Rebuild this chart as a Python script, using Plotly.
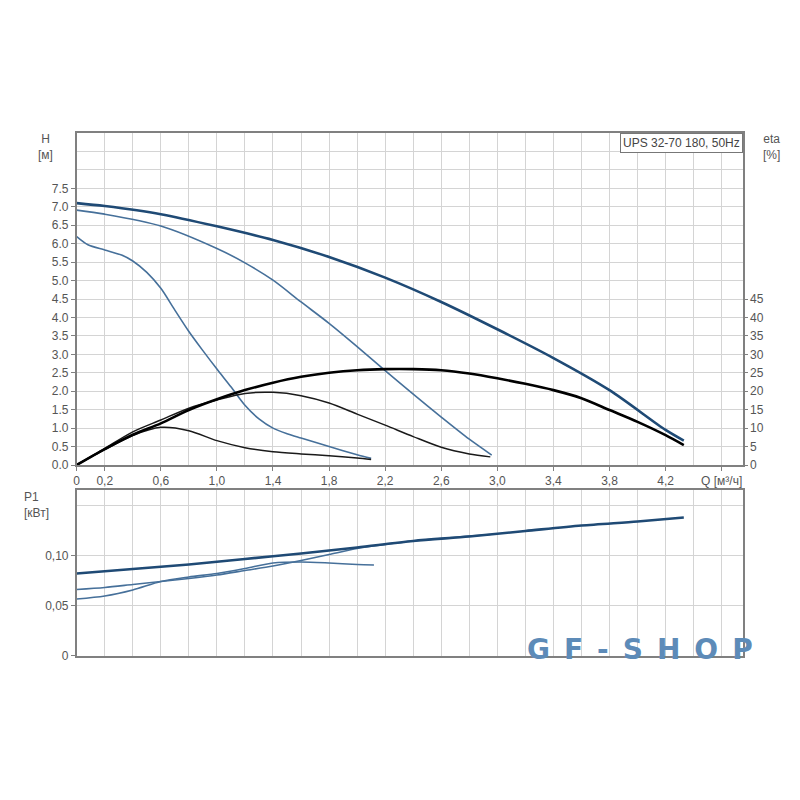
import plotly.graph_objects as go

# ---------------- data ----------------
# Head H [m] for the three speeds
q_h3 = [0, 0.2, 0.6, 1.0, 1.4, 1.8, 2.2, 2.6, 3.0, 3.4, 3.8, 4.2, 4.33]
h3 = [7.1, 7.02, 6.8, 6.47, 6.1, 5.64, 5.08, 4.42, 3.68, 2.9, 2.03, 0.95, 0.66]

q_h2 = [0, 0.2, 0.6, 1.0, 1.2, 1.4, 1.6, 1.8, 2.0, 2.2, 2.4, 2.6, 2.8, 2.96]
h2 = [6.91, 6.8, 6.48, 5.87, 5.48, 5.01, 4.42, 3.84, 3.21, 2.56, 1.92, 1.3, 0.7, 0.27]

q_h1 = [0, 0.08, 0.2, 0.32, 0.4, 0.5, 0.6, 0.7, 0.8, 0.9, 1.0, 1.1, 1.2, 1.3, 1.4, 1.5, 1.6, 1.8, 2.0, 2.1]
h1 = [6.19, 5.97, 5.83, 5.69, 5.53, 5.22, 4.79, 4.2, 3.62, 3.1, 2.6, 2.12, 1.62, 1.25, 1.0, 0.85, 0.73, 0.5, 0.28, 0.18]

# Efficiency eta [%]
q_e3 = [0, 0.2, 0.4, 0.6, 0.8, 1.0, 1.2, 1.4, 1.6, 1.8, 2.0, 2.2, 2.4, 2.6, 2.8, 3.0, 3.2, 3.4, 3.6, 3.8, 4.0, 4.2, 4.33]
e3 = [0, 4.3, 8.2, 11.3, 14.9, 17.8, 20.3, 22.3, 23.9, 25.0, 25.7, 26.0, 26.0, 25.7, 24.8, 23.5, 22.0, 20.3, 18.1, 14.9, 11.7, 8.1, 5.4]

q_e2 = [0, 0.2, 0.4, 0.6, 0.8, 1.0, 1.2, 1.4, 1.6, 1.8, 2.0, 2.2, 2.4, 2.6, 2.8, 2.95]
e2 = [0, 4.5, 9.0, 12.2, 15.4, 17.6, 19.4, 19.7, 18.8, 16.8, 13.8, 10.8, 7.7, 4.8, 3.0, 2.2]

q_e1 = [0, 0.2, 0.4, 0.6, 0.8, 1.0, 1.2, 1.4, 1.6, 1.8, 2.0, 2.1]
e1 = [0, 4.2, 8.0, 10.2, 9.3, 6.6, 4.7, 3.6, 3.0, 2.5, 1.9, 1.5]

# Power P1 [kW]
q_p3 = [0, 0.4, 0.8, 1.2, 1.6, 2.0, 2.4, 2.8, 3.2, 3.6, 4.0, 4.33]
p3 = [0.082, 0.0865, 0.091, 0.0965, 0.102, 0.108, 0.1145, 0.119, 0.1245, 0.130, 0.134, 0.138]

q_p2 = [0, 0.2, 0.4, 0.6, 0.8, 1.0, 1.2, 1.4, 1.6, 1.8, 2.0, 2.2, 2.4, 2.6, 2.8, 2.95]
p2 = [0.066, 0.068, 0.071, 0.074, 0.077, 0.0805, 0.085, 0.0895, 0.095, 0.101, 0.107, 0.111, 0.1145, 0.117, 0.1195, 0.121]

q_p1 = [0, 0.2, 0.4, 0.6, 0.8, 1.0, 1.2, 1.4, 1.6, 1.8, 2.0, 2.12]
p1 = [0.0565, 0.0595, 0.0655, 0.074, 0.0785, 0.082, 0.087, 0.0925, 0.0935, 0.0925, 0.091, 0.0905]

x_tickvals = [0, 0.2, 0.6, 1.0, 1.4, 1.8, 2.2, 2.6, 3.0, 3.4, 3.8, 4.2, 4.6]
x_ticktext = ["0", "0,2", "0,6", "1,0", "1,4", "1,8", "2,2", "2,6", "3,0", "3,4", "3,8", "4,2", "Q [м³/ч]"]
h_tickvals = [0, 0.5, 1.0, 1.5, 2.0, 2.5, 3.0, 3.5, 4.0, 4.5, 5.0, 5.5, 6.0, 6.5, 7.0, 7.5]
h_ticktext = ["0.0", "0.5", "1.0", "1.5", "2.0", "2.5", "3.0", "3.5", "4.0", "4.5", "5.0", "5.5", "6.0", "6.5", "7.0", "7.5"]
eta_tickvals = [0, 5, 10, 15, 20, 25, 30, 35, 40, 45]
p_tickvals = [0, 0.05, 0.10]
p_ticktext = ["0", "0,05", "0,10"]

# ---------------- style ----------------
GRID = "#d4d4d4"
BORDER = "#808080"
TXT = "#555555"
BLUE_D = "#1f4a75"
BLUE_L = "#46709a"
FONT = "Liberation Sans"

W = H = 792          # page body has an 8px margin
OFF = 8


def px_x(X):
    return (X - OFF) / W


def px_y(Y):
    return 1 - (Y - OFF) / H


fig = go.Figure()


def line(x, y, color, width, xa, ya):
    fig.add_trace(go.Scatter(x=x, y=y, mode="lines", xaxis=xa, yaxis=ya,
                             line=dict(color=color, width=width, shape="spline", smoothing=0.8),
                             showlegend=False, hoverinfo="skip"))


# eta curves (black)
line(q_e1, e1, "#1a1a1a", 1.5, "x", "y3")
line(q_e2, e2, "#1a1a1a", 1.5, "x", "y3")
line(q_e3, e3, "#000000", 2.6, "x", "y3")
# head curves (blue)
line(q_h1, h1, BLUE_L, 1.6, "x", "y")
line(q_h2, h2, BLUE_L, 1.6, "x", "y")
line(q_h3, h3, BLUE_D, 2.6, "x", "y")
# power curves
line(q_p1, p1, BLUE_L, 1.6, "x2", "y2")
line(q_p2, p2, BLUE_L, 1.6, "x2", "y2")
line(q_p3, p3, BLUE_D, 2.6, "x2", "y2")

xdom = [px_x(76.7), px_x(742.7)]
top_dom = [px_y(465), px_y(133)]
bot_dom = [px_y(655.5), px_y(490)]

common_axis = dict(showline=True, linecolor=BORDER, linewidth=1.5, mirror=True, automargin=False,
                   zeroline=False, tickfont=dict(family=FONT, size=12, color=TXT))

fig.update_layout(
    width=W, height=H,
    margin=dict(l=0, r=0, t=0, b=0, autoexpand=False),
    paper_bgcolor="white", plot_bgcolor="white",
    showlegend=False,
    xaxis=dict(domain=xdom, range=[0, 4.75], anchor="y",
               tickvals=x_tickvals, ticktext=x_ticktext, ticks="outside", ticklen=4, tickcolor=BORDER,
               showgrid=True, gridcolor=GRID,
               minor=dict(dtick=0.2, tick0=0, showgrid=True, gridcolor=GRID, ticks=""),
               **common_axis),
    yaxis=dict(domain=top_dom, range=[0, 9], anchor="x",
               tickvals=h_tickvals, ticktext=h_ticktext, ticks="outside", ticklen=4, tickcolor=BORDER,
               showgrid=True, gridcolor=GRID,
               minor=dict(dtick=0.5, tick0=0, showgrid=True, gridcolor=GRID, ticks=""),
               **common_axis),
    yaxis3=dict(overlaying="y", side="right", range=[0, 90], anchor="x", automargin=False,
                tickvals=eta_tickvals, ticks="outside", ticklen=4, tickcolor=BORDER,
                showgrid=False, showline=False, zeroline=False,
                tickfont=dict(family=FONT, size=12, color=TXT)),
    xaxis2=dict(domain=xdom, range=[0, 4.75], anchor="y2", matches="x",
                tickvals=x_tickvals, showticklabels=False, ticks="",
                showgrid=True, gridcolor=GRID,
                minor=dict(dtick=0.2, tick0=0, showgrid=True, gridcolor=GRID, ticks=""),
                **common_axis),
    yaxis2=dict(domain=bot_dom, range=[0, 0.1655], anchor="x2",
                tickvals=p_tickvals, ticktext=p_ticktext, ticks="outside", ticklen=4, tickcolor=BORDER,
                showgrid=True, gridcolor=GRID,
                minor=dict(dtick=0.05, tick0=0, showgrid=True, gridcolor=GRID, ticks=""),
                **common_axis),
)

ann_font = dict(family=FONT, size=12, color=TXT)
fig.add_annotation(x=px_x(45), y=px_y(130), xref="paper", yref="paper", xanchor="center", yanchor="top",
                   text="H<br>[м]", showarrow=False, font=ann_font, align="center")
fig.add_annotation(x=px_x(771), y=px_y(130), xref="paper", yref="paper", xanchor="center", yanchor="top",
                   text="eta<br>[%]", showarrow=False, font=ann_font, align="center")
fig.add_annotation(x=px_x(22), y=px_y(488), xref="paper", yref="paper", xanchor="left", yanchor="top",
                   text="P1<br>[кВт]", showarrow=False, font=ann_font, align="left")
fig.add_annotation(x=px_x(742.7), y=px_y(133), xref="paper", yref="paper", xanchor="right", yanchor="top",
                   text="UPS 32-70 180, 50Hz", showarrow=False,
                   font=dict(family=FONT, size=12, color="#444444"),
                   bgcolor="white", bordercolor="#777777", borderwidth=1, borderpad=2)
fig.add_annotation(x=px_x(640), y=px_y(649), xref="paper", yref="paper", xanchor="center", yanchor="middle",
                   text="G\u2002F\u2002-\u2002S\u2002H\u2002O\u2002P", showarrow=False,
                   font=dict(family="DejaVu Sans", size=28, color="#5d8bb8", weight="bold"))

fig.write_html("out.html")
